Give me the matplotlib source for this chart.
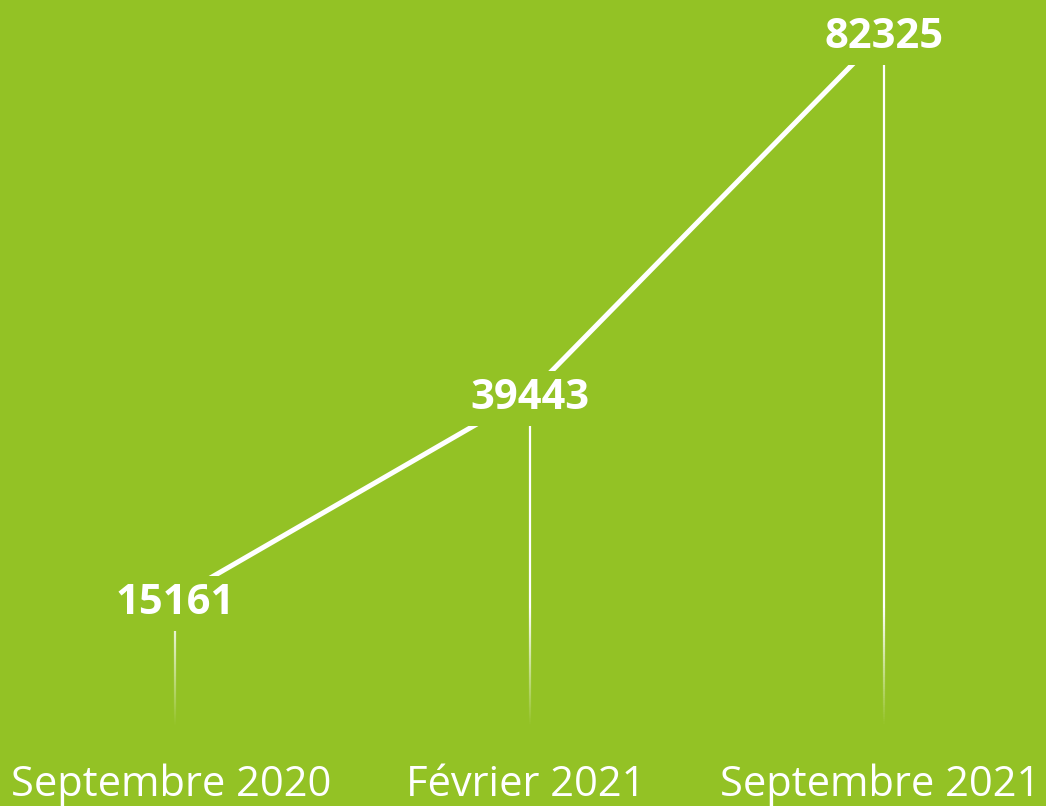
import numpy as np
import matplotlib
matplotlib.use("Agg")
import matplotlib.pyplot as plt
from matplotlib.collections import LineCollection
import matplotlib.transforms as mtransforms

# Données
dates = ["Septembre 2020", "Février 2021", "Septembre 2021"]
valeurs = [15161, 39443, 82325]

vert = "#93c225"

fig = plt.figure(figsize=(10.46, 8.06), dpi=100)
fig.patch.set_facecolor(vert)
ax = fig.add_axes([0, 0, 1, 1])
ax.set_facecolor(vert)
ax.set_xlim(-0.494, 2.457)
ax.set_ylim(-9490, 86150)
ax.axis("off")

x = np.arange(len(valeurs))

# ligne principale
ax.plot(x, valeurs, color="white", lw=3.6, solid_capstyle="butt", zorder=2)

# traits verticaux qui s'estompent vers le bas
for xi, v in zip(x, valeurs):
    ys = np.linspace(0, v, 300)
    segs = [[(xi, ys[i]), (xi, ys[i + 1])] for i in range(len(ys) - 1)]
    alphas = np.clip(ys[:-1] / 14000, 0, 1)
    couleurs = [(1, 1, 1, a) for a in alphas]
    lc = LineCollection(segs, colors=couleurs, linewidths=1.6, zorder=1)
    ax.add_collection(lc)

# étiquettes des valeurs
for xi, v in zip(x, valeurs):
    ax.text(xi, v, str(v), color="white", fontsize=30, fontweight="bold",
            family=["Open Sans", "DejaVu Sans"], ha="center", va="center_baseline",
            zorder=3,
            bbox=dict(boxstyle="square,pad=0.17", facecolor=vert, edgecolor="none"))

# dates en bas
trans = mtransforms.blended_transform_factory(ax.transData, fig.transFigure)
for xi, d in zip(x, dates):
    ax.text(xi - 0.012, 10 / 806, d, color="white", fontsize=30,
            family=["Open Sans", "DejaVu Sans"], ha="center", va="baseline",
            transform=trans, zorder=3)

fig.savefig("out.png", dpi=100, facecolor=vert)
